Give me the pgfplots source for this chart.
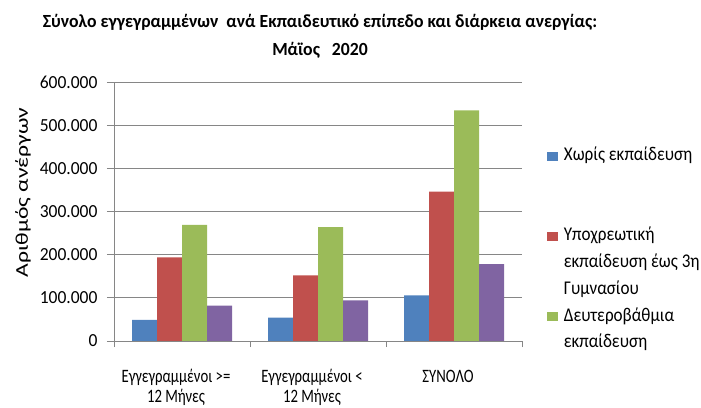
\documentclass[border=0pt]{standalone}
\usepackage{fontspec}
\setmainfont{Carlito}
\usepackage{graphicx}
\usepackage{pgfplots}
\pgfplotsset{compat=1.18}

\definecolor{xlblue}{HTML}{4F81BD}
\definecolor{xlred}{HTML}{C0504D}
\definecolor{xlgreen}{HTML}{9BBB59}
\definecolor{xlpurple}{HTML}{8064A2}
\definecolor{gridgray}{HTML}{868686}

% horizontal squeeze of text, the reference is narrow
\newcommand{\hs}[2]{\scalebox{#1}[1]{#2}}
\newcommand{\leg}[1]{\strut\hs{0.88}{#1}}

\begin{document}
\begin{tikzpicture}
\path[use as bounding box] (0,0) rectangle (701bp,408bp);
\begin{axis}[
    at={(114bp,67bp)}, anchor=south west,
    scale only axis, width=408bp, height=259bp,
    xmin=-0.5, xmax=2.5,
    ymin=0, ymax=600000,
    ybar=0pt, bar width=25bp,
    axis x line=bottom, axis y line=left,
    axis line style={-, draw=gridgray, line width=0.8bp},
    ytick={0,100000,...,600000},
    ymajorgrids,
    major grid style={draw=gridgray, line width=0.8bp},
    xtick={0,1,2},
    minor xtick={-0.5,0.5,1.5,2.5},
    tick align=outside,
    major tick length=7bp, minor tick length=6bp,
    tick style={draw=gridgray, line width=0.8bp},
    major x tick style={draw=none},
    scaled y ticks=false,
    yticklabel={\hs{0.95}{\pgfmathprintnumber{\tick}}},
    yticklabel style={
        /pgf/number format/fixed,
        /pgf/number format/1000 sep={.},
        /pgf/number format/assume math mode=true,
        xshift=-6bp,
        font=\fontsize{18.5}{20}\selectfont},
    xticklabel style={anchor=north, inner sep=0pt, yshift=-20bp, xshift=-6bp,
        font=\fontsize{19}{20}\selectfont},
    xticklabels={
        {\hs{0.78}{\begin{tabular}[t]{@{}c@{}}Εγγεγραμμένοι >=\\12 Μήνες\end{tabular}}},
        {\hs{0.78}{\begin{tabular}[t]{@{}c@{}}Εγγεγραμμένοι <\\12 Μήνες\end{tabular}}},
        {\hs{0.78}{\begin{tabular}[t]{@{}c@{}}ΣΥΝΟΛΟ\end{tabular}}}},
    ylabel={\scalebox{1.32}[1]{Αριθμός ανέργων}},
    ylabel style={at={(rel axis cs:-0.223,0.573)}, anchor=center,
        font=\fontsize{18}{20}\selectfont},
    title={\hs{0.955}{\begin{tabular}{@{}c@{}}Σύνολο εγγεγραμμένων~ ανά Εκπαιδευτικό επίπεδο και διάρκεια ανεργίας:\\Μάϊος~~ 2020\end{tabular}}},
    title style={at={(rel axis cs:0.505,1)}, anchor=south, yshift=9bp,
        font=\bfseries\fontsize{18.6}{28}\selectfont},
    legend style={at={(rel axis cs:1.061,0.771)}, anchor=north west,
        draw=none, fill=none, inner sep=0pt, outer sep=0pt, row sep=3.8bp,
        font=\fontsize{19.5}{25}\selectfont,
        cells={anchor=base west, inner sep=0pt},
        /tikz/every odd column/.append style={column sep=4bp}},
    legend image code/.code={\path[#1, draw=none] (0bp,0bp) rectangle (11bp,9bp);},
]
\addplot[fill=xlblue, draw=none] coordinates {(0,49000) (1,54000) (2,105500)};
\addlegendentry{\leg{Χωρίς εκπαίδευση}}
\addlegendimage{empty legend}
\addlegendentry{\strut}
\addlegendimage{empty legend}
\addlegendentry{\strut}
\addplot[fill=xlred, draw=none] coordinates {(0,194000) (1,152000) (2,346000)};
\addlegendentry{\leg{Υποχρεωτική}}
\addlegendimage{empty legend}
\addlegendentry{\leg{εκπαίδευση έως 3η}}
\addlegendimage{empty legend}
\addlegendentry{\leg{Γυμνασίου}}
\addplot[fill=xlgreen, draw=none] coordinates {(0,269000) (1,264000) (2,534000)};
\addlegendentry{\leg{Δευτεροβάθμια}}
\addlegendimage{empty legend}
\addlegendentry{\leg{εκπαίδευση}}
\addplot[fill=xlpurple, draw=none] coordinates {(0,82000) (1,94000) (2,178000)};
\end{axis}
\end{tikzpicture}
\end{document}
